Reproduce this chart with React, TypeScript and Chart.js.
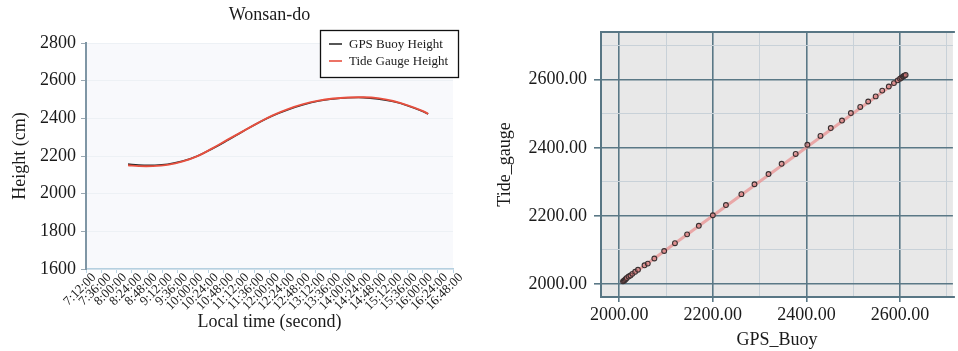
import React, { useEffect, useRef } from "react";
import { Chart, registerables } from "chart.js";

Chart.register(...registerables);

const FONT = "'Liberation Serif', 'Times New Roman', serif";

// ---- Left chart data (Wonsan-do) ----
const chartTitle = "Wonsan-do";
const timeTickLabels = [
  "7:12:00", "7:36:00", "8:00:00", "8:24:00", "8:48:00", "9:12:00", "9:36:00",
  "10:00:00", "10:24:00", "10:48:00", "11:12:00", "11:36:00", "12:00:00",
  "12:24:00", "12:48:00", "13:12:00", "13:36:00", "14:00:00", "14:24:00",
  "14:48:00", "15:12:00", "15:36:00", "16:00:00", "16:24:00", "16:48:00",
];
// minutes after midnight
const sampleMinutes = [498, 515, 537, 560, 584, 607, 631, 655, 678, 702, 725, 749, 773, 797, 820, 843, 867, 890, 914, 938, 960, 969];
const gpsBuoyHeight = [2157, 2152, 2151, 2156, 2173, 2200, 2240, 2285, 2330, 2375, 2414, 2446, 2472, 2492, 2503, 2509, 2510, 2503, 2489, 2466, 2438, 2423];
const tideGaugeHeight = [2151, 2146, 2146, 2153, 2171, 2199, 2242, 2288, 2331, 2376, 2416, 2449, 2475, 2494, 2505, 2511, 2512, 2507, 2492, 2468, 2440, 2424];
const seriesNames = ["GPS Buoy Height", "Tide Gauge Height"];

// ---- Right chart data (scatter) ----
const gpsBuoy = [
  2008, 2010, 2012, 2014, 2016, 2020, 2024, 2028, 2034, 2040, 2054, 2061, 2075, 2096,
  2119, 2145, 2170, 2200, 2228, 2261, 2289, 2319, 2347, 2377, 2402, 2430, 2452, 2476,
  2495, 2515, 2532, 2548, 2562, 2576, 2587, 2595, 2600, 2603, 2606, 2608, 2610, 2612,
];
const tideGauge = [
  2008, 2010, 2012, 2015, 2018, 2022, 2025, 2030, 2036, 2042, 2055, 2060, 2075, 2097,
  2120, 2146, 2171, 2202, 2232, 2264, 2293, 2323, 2353, 2382, 2409, 2435, 2458, 2480,
  2502, 2520, 2536, 2551, 2568, 2580, 2590, 2598, 2603, 2606, 2609, 2611, 2612, 2614,
];
const fitLineX = [2006, 2612];
const fitLineY = [2006, 2614];

const areaBg = (color: string) => ({
  id: "areaBg" + color.replace("#", ""),
  beforeDraw(chart: any) {
    const { ctx, chartArea: a } = chart;
    ctx.save();
    ctx.fillStyle = color;
    ctx.fillRect(a.left, a.top, a.right - a.left, a.bottom - a.top);
    ctx.restore();
  },
});

const leftDecor = {
  id: "leftDecor",
  afterDraw(chart: any) {
    const { ctx, chartArea: a } = chart;
    ctx.save();
    // title
    ctx.fillStyle = "#1a1a1a";
    ctx.font = `18px ${FONT}`;
    ctx.textAlign = "center";
    ctx.textBaseline = "middle";
    ctx.fillText(chartTitle, (a.left + a.right) / 2, 15);
    // legend box
    const x0 = a.right - 133;
    const y0 = a.top - 13;
    const w = 138;
    const h = 47;
    ctx.fillStyle = "#ffffff";
    ctx.fillRect(x0, y0, w, h);
    ctx.strokeStyle = "#111";
    ctx.lineWidth = 1.3;
    ctx.strokeRect(x0 + 0.5, y0 + 0.5, w, h);
    ctx.font = `13px ${FONT}`;
    ctx.textAlign = "left";
    chart.data.datasets.forEach((ds: any, i: number) => {
      const y = y0 + 14 + i * 17;
      ctx.strokeStyle = ds.borderColor;
      ctx.lineWidth = 1.6;
      ctx.beginPath();
      ctx.moveTo(x0 + 9, y);
      ctx.lineTo(x0 + 22, y);
      ctx.stroke();
      ctx.fillStyle = "#1a1a1a";
      ctx.fillText(ds.label, x0 + 29, y + 0.5);
    });
    ctx.restore();
  },
};

const rightFrame = {
  id: "rightFrame",
  afterDraw(chart: any) {
    const { ctx, chartArea: a } = chart;
    ctx.save();
    ctx.strokeStyle = "#587684";
    ctx.lineWidth = 2;
    ctx.beginPath();
    ctx.moveTo(a.right + 2, a.top);
    ctx.lineTo(a.left, a.top);
    ctx.lineTo(a.left, a.bottom);
    ctx.lineTo(a.right + 2, a.bottom);
    ctx.stroke();
    ctx.restore();
  },
};

function LeftChart() {
  const ref = useRef<HTMLCanvasElement>(null);
  useEffect(() => {
    const chart = new Chart(ref.current!, {
      type: "line",
      data: {
        datasets: [
          {
            label: seriesNames[0],
            data: sampleMinutes.map((m, i) => ({ x: m, y: gpsBuoyHeight[i] })),
            borderColor: "#2b2b2b",
            borderWidth: 1.6,
            pointRadius: 0,
            tension: 0.4,
            fill: false,
            order: 1,
          },
          {
            label: seriesNames[1],
            data: sampleMinutes.map((m, i) => ({ x: m, y: tideGaugeHeight[i] })),
            borderColor: "#e8503f",
            borderWidth: 1.9,
            pointRadius: 0,
            tension: 0.4,
            fill: false,
            order: 0,
          },
        ],
      },
      options: {
        responsive: false,
        animation: false,
        layout: { padding: { top: 43, right: 22, left: 0, bottom: 0 } },
        plugins: { legend: { display: false }, tooltip: { enabled: false }, title: { display: false } },
        scales: {
          x: {
            type: "linear",
            min: 432,
            max: 1008,
            afterFit: (s: any) => { s.height = 82; },
            ticks: {
              stepSize: 24,
              autoSkip: false,
              minRotation: 45,
              maxRotation: 45,
              color: "#1a1a1a",
              font: { family: FONT, size: 13 },
              padding: -3,
              labelOffset: 8,
              callback: (_v: any, i: number) => timeTickLabels[i],
            },
            grid: { drawOnChartArea: false, color: "#b9d3e2", tickLength: 4 },
            border: { color: "#b5d0e0", width: 1.5 },
            title: {
              display: true,
              text: "Local time (second)",
              color: "#1a1a1a",
              font: { family: FONT, size: 18 },
              padding: { top: 0, bottom: 18 },
            },
          },
          y: {
            min: 1600,
            max: 2800,
            afterFit: (s: any) => { s.width = 86; },
            ticks: {
              stepSize: 200,
              color: "#1a1a1a",
              font: { family: FONT, size: 18 },
              padding: 5,
              callback: (v: any) => String(v),
            },
            grid: { color: "#edf1f5", tickColor: "#9aa8b2", tickLength: 5 },
            border: { color: "#7f96a5", width: 2 },
            title: {
              display: true,
              text: "Height (cm)",
              color: "#1a1a1a",
              font: { family: FONT, size: 18 },
              padding: { top: 9, bottom: 0 },
            },
          },
        },
      },
      plugins: [areaBg("#f8f9fc"), leftDecor],
    });
    return () => chart.destroy();
  }, []);
  return <canvas ref={ref} width={475} height={351} style={{ position: "absolute", left: 0, top: 0 }} />;
}

function RightChart() {
  const ref = useRef<HTMLCanvasElement>(null);
  useEffect(() => {
    const isMajor = (c: any) => c.tick && Math.round(c.tick.value) % 200 === 0;
    const gridColor = (c: any) => (isMajor(c) ? "#5a7886" : "#c8d1d8");
    const gridWidth = (c: any) => (isMajor(c) ? 1.6 : 1);
    const tickColor = (c: any) => (isMajor(c) ? "#5a7886" : "rgba(0,0,0,0)");
    const fmt = (v: any) => (Math.round(v) % 200 === 0 ? Number(v).toFixed(2) : "");
    const chart = new Chart(ref.current!, {
      type: "scatter",
      data: {
        datasets: [
          {
            label: "points",
            data: gpsBuoy.map((x, i) => ({ x, y: tideGauge[i] })),
            pointRadius: 2.4,
            pointBorderWidth: 1.1,
            borderColor: "#3a2f30",
            backgroundColor: "rgba(214,120,120,0.55)",
          },
          {
            label: "fit",
            type: "line",
            data: fitLineX.map((x, i) => ({ x, y: fitLineY[i] })),
            showLine: true,
            pointRadius: 0,
            borderColor: "rgba(232,150,150,0.8)",
            borderWidth: 3,
            fill: false,
          } as any,
        ],
      },
      options: {
        responsive: false,
        animation: false,
        layout: { padding: { top: 32, right: 0, left: 0, bottom: 0 } },
        plugins: { legend: { display: false }, tooltip: { enabled: false } },
        scales: {
          x: {
            type: "linear",
            min: 1961,
            max: 2713,
            afterFit: (s: any) => { s.height = 54; },
            ticks: {
              stepSize: 100,
              includeBounds: false,
              autoSkip: false,
              maxRotation: 0,
              color: "#1a1a1a",
              font: { family: FONT, size: 18 },
              padding: 2,
              callback: fmt,
            },
            grid: { color: gridColor, lineWidth: gridWidth, tickColor, tickLength: 5 },
            border: { display: false },
            title: {
              display: true,
              text: "GPS_Buoy",
              color: "#1a1a1a",
              font: { family: FONT, size: 18 },
              padding: { top: 0, bottom: 0 },
            },
          },
          y: {
            type: "linear",
            min: 1962,
            max: 2740,
            afterFit: (s: any) => { s.width = 121; },
            ticks: {
              stepSize: 100,
              includeBounds: false,
              autoSkip: false,
              color: "#1a1a1a",
              font: { family: FONT, size: 18 },
              padding: 7,
              callback: fmt,
            },
            grid: { color: gridColor, lineWidth: gridWidth, tickColor, tickLength: 7 },
            border: { display: false },
            title: {
              display: true,
              text: "Tide_gauge",
              color: "#1a1a1a",
              font: { family: FONT, size: 18 },
              padding: { top: 14, bottom: 0 },
            },
          },
        },
      },
      plugins: [areaBg("#e8e8e8"), rightFrame],
    });
    return () => chart.destroy();
  }, []);
  return <canvas ref={ref} width={478} height={351} style={{ position: "absolute", left: 480, top: 0 }} />;
}

export default function App() {
  return (
    <div style={{ position: "absolute", left: 0, top: 0, width: 958, height: 351, background: "#fff", overflow: "hidden" }}>
      <LeftChart />
      <RightChart />
    </div>
  );
}
